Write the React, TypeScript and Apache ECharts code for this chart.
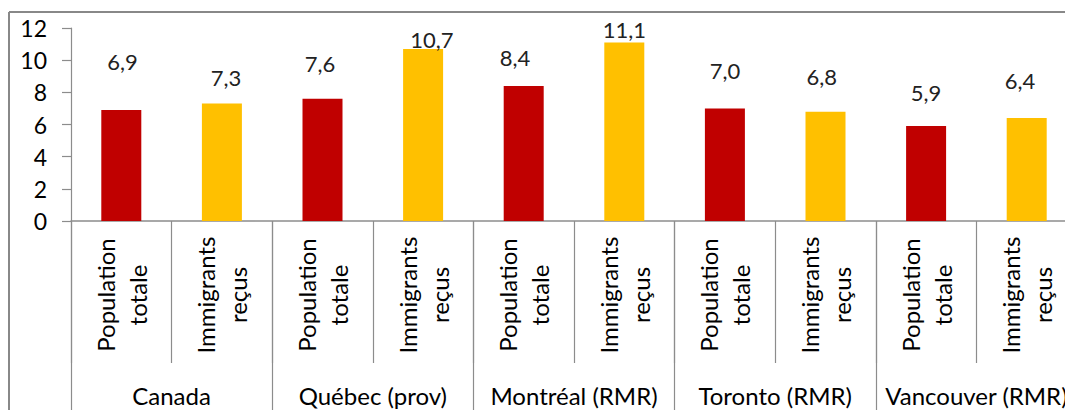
import React, { useEffect, useRef } from "react";
import * as echarts from "echarts";

const subCategories = [
  "Population\ntotale",
  "Immigrants\nreçus",
  "Population\ntotale",
  "Immigrants\nreçus",
  "Population\ntotale",
  "Immigrants\nreçus",
  "Population\ntotale",
  "Immigrants\nreçus",
  "Population\ntotale",
  "Immigrants\nreçus",
];
const groups = ["Canada", "Québec (prov)", "Montréal (RMR)", "Toronto (RMR)", "Vancouver (RMR)"];
const values = [6.9, 7.3, 7.6, 10.7, 8.4, 11.1, 7.0, 6.8, 5.9, 6.4];
const yTicks = { min: 0, max: 12, interval: 2 };

// label placement (style only): distance of label centre above bar top, and horizontal shift
const labelLift = [49, 25.6, 34.8, 9.9, 28.4, 12.5, 37.8, 35.6, 33.6, 37.1];
const labelShift = [1.2, 4, -2.5, 8.7, -8.6, 0, 0, -3.7, 0, -6.6];

const RED = "#C00000";
const YELLOW = "#FFC000";
const GRID = "#8c8c8c";
const FONT = "Lato, 'Open Sans', sans-serif";

export default function App() {
  const ref = useRef<HTMLDivElement>(null);
  useEffect(() => {
    if (!ref.current) return;
    document.documentElement.style.overflow = "hidden";
    document.body.style.overflow = "hidden";
    const chart = echarts.init(ref.current, undefined, { renderer: "svg" });
    const LH = 22;
    chart.setOption({
      animation: false,
      textStyle: { fontFamily: FONT },
      graphic: [
        {
          type: "line",
          shape: { x1: 1, y1: 4, x2: 1300, y2: 4 },
          style: { stroke: "#888888", lineWidth: 2 },
          silent: true,
        },
        {
          type: "line",
          shape: { x1: 1, y1: 4, x2: 1, y2: 500 },
          style: { stroke: "#888888", lineWidth: 2 },
          silent: true,
        },
      ],
      grid: { left: 63, top: 20, width: 1006, height: 193, containLabel: false },
      xAxis: [
        {
          type: "category",
          data: subCategories,
          position: "bottom",
          axisLine: { show: true, lineStyle: { color: GRID, width: 1.5 } },
          axisTick: { show: true, length: 142, lineStyle: { color: GRID, width: 1.2 } },
          axisLabel: {
            interval: 0,
            rotate: 90,
            align: "center",
            verticalAlign: "middle",
            margin: 74,
            fontSize: 24,
            lineHeight: 32,
            color: "#000",
            fontFamily: FONT,
          },
        },
        {
          type: "category",
          data: groups,
          position: "bottom",
          axisLine: { show: false },
          axisTick: { show: true, length: 210, lineStyle: { color: GRID, width: 1.2 } },
          splitLine: { show: false },
          axisLabel: {
            interval: 0,
            margin: 162,
            fontSize: 24,
            color: "#000",
            fontFamily: FONT,
          },
        },
      ],
      yAxis: {
        type: "value",
        min: yTicks.min,
        max: yTicks.max,
        interval: yTicks.interval,
        axisLine: { show: true, lineStyle: { color: GRID, width: 1.2 } },
        axisTick: { show: true, length: 9, lineStyle: { color: GRID, width: 1.2 } },
        splitLine: { show: false },
        axisLabel: { margin: 24, fontSize: 23, color: "#000", fontFamily: FONT },
      },
      series: [
        {
          type: "bar",
          xAxisIndex: 0,
          barWidth: 40,
          data: values.map((v, i) => ({
            value: v,
            itemStyle: { color: i % 2 === 0 ? RED : YELLOW },
            label: { offset: [labelShift[i], -(labelLift[i] - LH / 2)] },
          })),
          label: {
            show: true,
            position: "top",
            distance: 0,
            fontSize: 22,
            lineHeight: LH,
            color: "#222",
            fontFamily: FONT,
            formatter: (p: any) => Number(p.value).toFixed(1).replace(".", ","),
          },
        },
      ],
    });
    return () => chart.dispose();
  }, []);
  return (
    <div
      style={{
        position: "fixed",
        left: 0,
        top: 0,
        width: 1065,
        height: 410,
        overflow: "hidden",
        background: "#fff",
      }}
    >
      <div ref={ref} style={{ position: "absolute", left: 8, top: 8, width: 1200, height: 430 }} />
    </div>
  );
}
